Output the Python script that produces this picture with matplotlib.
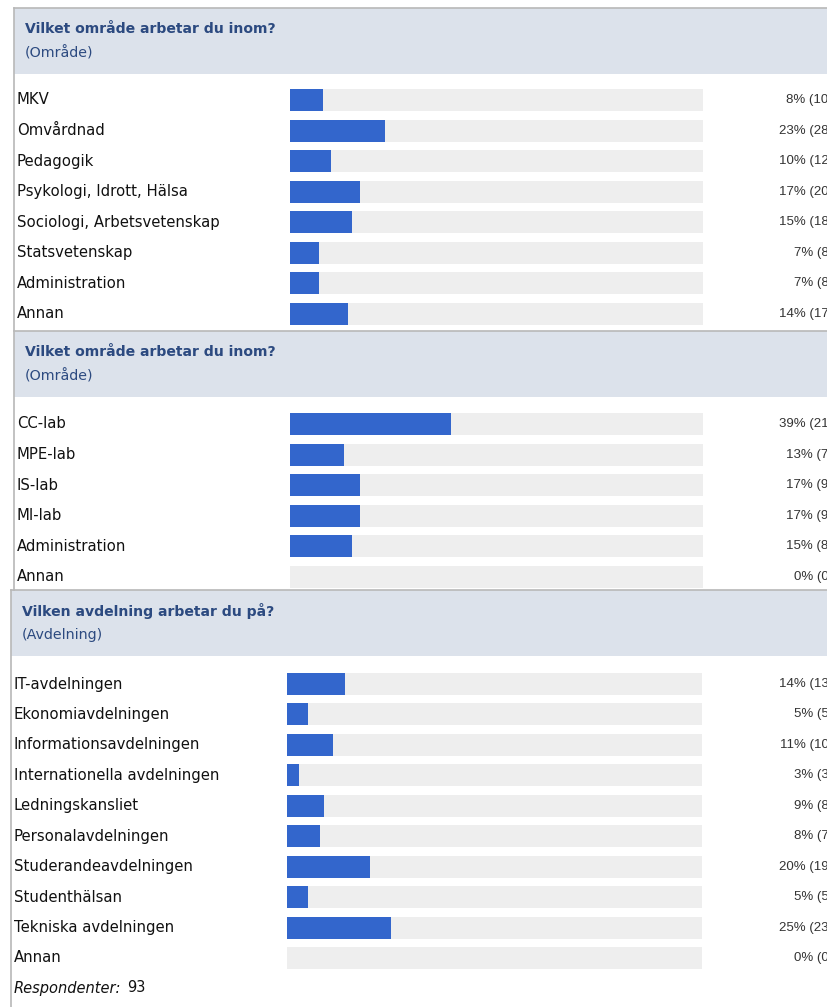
import matplotlib
matplotlib.use("Agg")
import matplotlib.pyplot as plt
from matplotlib.patches import Rectangle
from matplotlib.transforms import blended_transform_factory

W, H = 828, 1007

# data
omrade_labels = ["MKV", "Omvårdnad", "Pedagogik", "Psykologi, Idrott, Hälsa",
                 "Sociologi, Arbetsvetenskap", "Statsvetenskap", "Administration", "Annan"]
omrade_pct = [8, 23, 10, 17, 15, 7, 7, 14]
omrade_n = [10, 28, 12, 20, 18, 8, 8, 17]

lab_labels = ["CC-lab", "MPE-lab", "IS-lab", "MI-lab", "Administration", "Annan"]
lab_pct = [39, 13, 17, 17, 15, 0]
lab_n = [21, 7, 9, 9, 8, 0]

avd_labels = ["IT-avdelningen", "Ekonomiavdelningen", "Informationsavdelningen",
              "Internationella avdelningen", "Ledningskansliet", "Personalavdelningen",
              "Studerandeavdelningen", "Studenthälsan", "Tekniska avdelningen", "Annan"]
avd_pct = [14, 5, 11, 3, 9, 8, 20, 5, 25, 0]
avd_n = [13, 5, 10, 3, 8, 7, 19, 5, 23, 0]

titles = ["Vilket område arbetar du inom?", "Vilket område arbetar du inom?",
          "Vilken avdelning arbetar du på?"]
subtitles = ["(Område)", "(Område)", "(Avdelning)"]
respondenter = 93

BLUE = "#3366cc"
TRACK = "#eeeeee"
HEAD_BG = "#dce2eb"
HEAD_FG = "#2c4a80"
BORDER = "#b8b8b8"

fig = plt.figure(figsize=(W / 100, H / 100), dpi=100)
fig.patch.set_facecolor("white")


def fx(x):
    return x / W


def fy(y):
    return 1 - y / H


def header(left, top, bottom, title, sub):
    fig.add_artist(Rectangle((fx(left), fy(bottom)), 1 - fx(left), fy(top) - fy(bottom),
                             transform=fig.transFigure, facecolor=HEAD_BG,
                             edgecolor="none", zorder=0))
    fig.add_artist(plt.Line2D([fx(left), 1], [fy(top), fy(top)], transform=fig.transFigure,
                              color=BORDER, lw=1.2))
    fig.text(fx(left + 11), fy(top + 21), title, fontsize=10.1, fontweight="bold",
             color=HEAD_FG, va="center", ha="left", family="DejaVu Sans")
    fig.text(fx(left + 11), fy(top + 45), sub, fontsize=10.3,
             color=HEAD_FG, va="center", ha="left", family="DejaVu Sans")


def panel(labels, pct, n, label_x, track_l, track_r, first_y, last_y):
    k = len(labels)
    step = (last_y - first_y) / (k - 1)
    top = first_y - step / 2
    bot = last_y + step / 2
    ax = fig.add_axes([fx(track_l), fy(bot), fx(track_r) - fx(track_l), fy(top) - fy(bot)])
    ax.set_axis_off()
    ax.patch.set_alpha(0)
    ys = list(range(k))
    ax.barh(ys, [100] * k, height=0.72, color=TRACK, align="center")
    ax.barh(ys, pct, height=0.72, color=BLUE, align="center")
    ax.set_xlim(0, 100)
    ax.set_ylim(k - 0.5, -0.5)
    tr = blended_transform_factory(fig.transFigure, ax.transData)
    for i in ys:
        fig.text(fx(label_x), i, labels[i], transform=tr, fontsize=10.7, color="#111111",
                 va="center", ha="left", family="DejaVu Sans")
        # the screenshot cuts these off at the right edge
        fig.text(fx(833), i, f"{pct[i]}% ({n[i]})", transform=tr, fontsize=9.5,
                 color="#333333", va="center", ha="right", family="Liberation Sans")
    return ax


# left borders
fig.add_artist(plt.Line2D([fx(14), fx(14)], [fy(8), fy(590)], transform=fig.transFigure,
                          color=BORDER, lw=1.2))
fig.add_artist(plt.Line2D([fx(11), fx(11)], [fy(590), 0], transform=fig.transFigure,
                          color=BORDER, lw=1.2))

header(14, 8, 74, titles[0], subtitles[0])
header(14, 331, 397, titles[1], subtitles[1])
header(11, 590, 656, titles[2], subtitles[2])

panel(omrade_labels, omrade_pct, omrade_n, 17, 290, 703, 100, 314)
panel(lab_labels, lab_pct, lab_n, 17, 290, 703, 424, 577)
panel(avd_labels, avd_pct, avd_n, 14, 287, 702, 684, 958)

fig.text(fx(14), fy(988), "Respondenter:", fontsize=10.5, style="italic", color="#111111",
         va="center", ha="left", family="DejaVu Sans")
fig.text(fx(127), fy(988), str(respondenter), fontsize=10.5, color="#111111",
         va="center", ha="left", family="DejaVu Sans")

fig.savefig("out.png", dpi=100, facecolor="white")
